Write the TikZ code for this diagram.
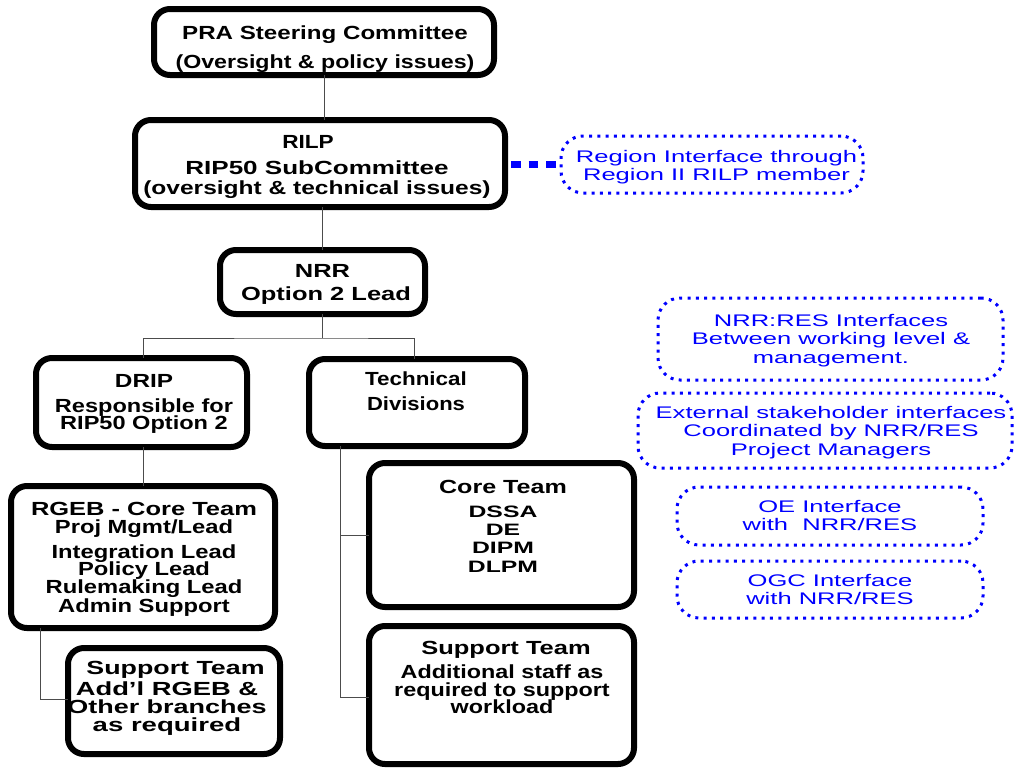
\documentclass[tikz,border=0pt]{standalone}
\usepackage{fontspec}
\setmainfont{Liberation Sans}
\newfontfamily\bluefont{Liberation Sans}[FakeStretch=1.52]
\newcommand\stx[1]{\addfontfeature{FakeStretch=#1}}
\begin{document}
\begin{tikzpicture}[x=1pt,y=-1pt,
  obox/.style={draw=black, line width=6pt, rounded corners=16pt, inner sep=0pt, outer sep=0pt},
  dbox/.style={draw=blue, line width=3pt, dash pattern=on 3pt off 5.3pt, rounded corners=22pt, inner sep=0pt, outer sep=0pt},
  btxt/.style={anchor=north, inner sep=0pt, align=center, font={\bfseries\fontsize{19}{18}\selectfont\lineskiplimit=-50pt\relax}},
  ltxt/.style={anchor=north, inner sep=0pt, align=center, text=blue, font={\bluefont\fontsize{16.8}{18.5}\selectfont\lineskiplimit=-50pt\relax}},
  conn/.style={draw=black!70, line width=1pt},
  dlink/.style={draw=blue, line width=6.5pt, dash pattern=on 9.5pt off 8pt, dash phase=11.5pt}]
\fill[white] (0,0) rectangle (1014,769);
\useasboundingbox (0,0) rectangle (1014,769);

% black boxes
\node[obox, minimum width=340pt, minimum height=66pt] (pra) at (324,42) {};
\node[obox, minimum width=370pt, minimum height=87pt] (rilp) at (320,163.5) {};
\node[obox, minimum width=205pt, minimum height=64pt] (nrr) at (322.5,282) {};
\node[obox, minimum width=211pt, minimum height=89pt] (drip) at (141.5,402.5) {};
\node[obox, minimum width=216pt, minimum height=87pt] (tech) at (417,402.5) {};
\node[obox, minimum width=264pt, minimum height=142pt] (rgeb) at (143,557) {};
\node[obox, minimum width=212pt, minimum height=106pt] (supL) at (174,701) {};
\node[obox, minimum width=265pt, minimum height=144pt] (coreR) at (501.5,535) {};
\node[obox, minimum width=265pt, minimum height=138pt] (supR) at (501.5,695) {};

% blue dotted boxes
\node[dbox, minimum width=302pt, minimum height=57pt] (reg) at (712,164.5) {};
\node[dbox, minimum width=345pt, minimum height=82pt] (nres) at (830.5,339) {};
\node[dbox, minimum width=374pt, minimum height=75pt] (ext) at (825,430.5) {};
\node[dbox, minimum width=306pt, minimum height=58pt] (oe) at (830,516) {};
\node[dbox, minimum width=306pt, minimum height=57pt] (ogc) at (830,589.5) {};

% black texts
\node[btxt] (praT) at (325,25) {\rule{0pt}{14pt}{\stx{1.27}PRA Steering Committee}\\[11pt]{\stx{1.22}(Oversight \& policy issues)}};
\node[btxt] (rilpT) at (317,134) {\rule{0pt}{14pt}{\stx{1.19}RILP}\hspace*{18pt}\\[8pt]{\stx{1.37}RIP50 SubCommittee}\\[2pt]{\stx{1.29}(oversight \& technical issues)}};
\node[btxt] (nrrT) at (326,263) {\rule{0pt}{14pt}{\stx{1.34}NRR}\hspace*{7pt}\\[5pt]{\stx{1.34}Option 2 Lead}};
\node[btxt] (dripT) at (144,373) {\rule{0pt}{14pt}{\stx{1.28}DRIP}\\[7pt]{\stx{1.24}Responsible for}\\[-1pt]{\stx{1.24}RIP50 Option 2}};
\node[btxt] (techT) at (416,371) {\rule{0pt}{14pt}{\stx{1.18}Technical}\\[7pt]{\stx{1.16}Divisions}};
\node[btxt] (rgebT) at (144,501) {\rule{0pt}{14pt}{\stx{1.34}RGEB - Core Team}\\{\stx{1.25}Proj Mgmt/Lead}\\[7pt]{\stx{1.25}Integration Lead}\\[-1pt]{\stx{1.25}Policy Lead}\\{\stx{1.25}Rulemaking Lead}\\[1pt]{\stx{1.25}Admin Support}};
\node[btxt] (coreT) at (503,479) {\rule{0pt}{14pt}{\stx{1.32}Core Team}\\[6pt]{\fontsize{16.5}{18}\selectfont\stx{1.5}DSSA}\\{\fontsize{16.5}{18}\selectfont\stx{1.5}DE}\\{\fontsize{16.5}{18}\selectfont\stx{1.5}DIPM}\\[1pt]{\fontsize{16.5}{18}\selectfont\stx{1.5}DLPM}};
\node[btxt] (supRT) at (502,640) {\rule{0pt}{14pt}\hspace*{8pt}{\stx{1.34}Support Team}\\[6pt]{\stx{1.23}Additional staff as}\\{\stx{1.23}required to support}\\[-1pt]{\stx{1.23}workload}};
\node[btxt] (supLT) at (167,660) {\rule{0pt}{14pt}\hspace*{17pt}{\stx{1.41}Support Team}\\[3pt]{\stx{1.44}Add’l RGEB \&}\\[0pt]{\stx{1.42}Other branches}\\[0pt]{\stx{1.45}as required}};

% blue texts
\node[ltxt] (regT) at (716.5,149.5) {\rule{0pt}{12.5pt}Region Interface through\\Region II RILP member};
\node[ltxt] (nresT) at (831,313.5) {\rule{0pt}{12.5pt}NRR:RES Interfaces\\Between working level \&\\management.};
\node[ltxt] (extT) at (831,405.5) {\rule{0pt}{12.5pt}External stakeholder interfaces\\Coordinated by NRR/RES\\Project Managers};
\node[ltxt] (oeT) at (830,499.5) {\rule{0pt}{12.5pt}OE Interface\\with\ \ NRR/RES};
\node[ltxt] (ogcT) at (830,573.5) {\rule{0pt}{12.5pt}OGC Interface\\with NRR/RES};

% connectors
\coordinate (bus) at (323,338);
\draw[conn] (pra.south) -- (pra.south |- rilp.north);
\draw[conn] (nrr.north |- rilp.south) -- (nrr.north);
\draw[conn] (nrr.south) -- (nrr.south |- bus);
\draw[conn] ([xshift=1.5pt]drip.north) |- (bus) -| ([xshift=-3pt]tech.north);
\draw[conn] ([xshift=1.5pt]drip.south) -- ([xshift=1.5pt]drip.south |- rgeb.north);
\draw[conn] ([xshift=-77pt]tech.south) |- (coreR.west);
\draw[conn] ([xshift=-77pt]tech.south) |- ([yshift=-2pt]supR.west);
\draw[conn] ([xshift=-103pt]rgeb.south) |- ([yshift=2pt]supL.west);
\draw[dlink] (rilp.east |- reg.west) -- (reg.west);
\end{tikzpicture}
\end{document}
